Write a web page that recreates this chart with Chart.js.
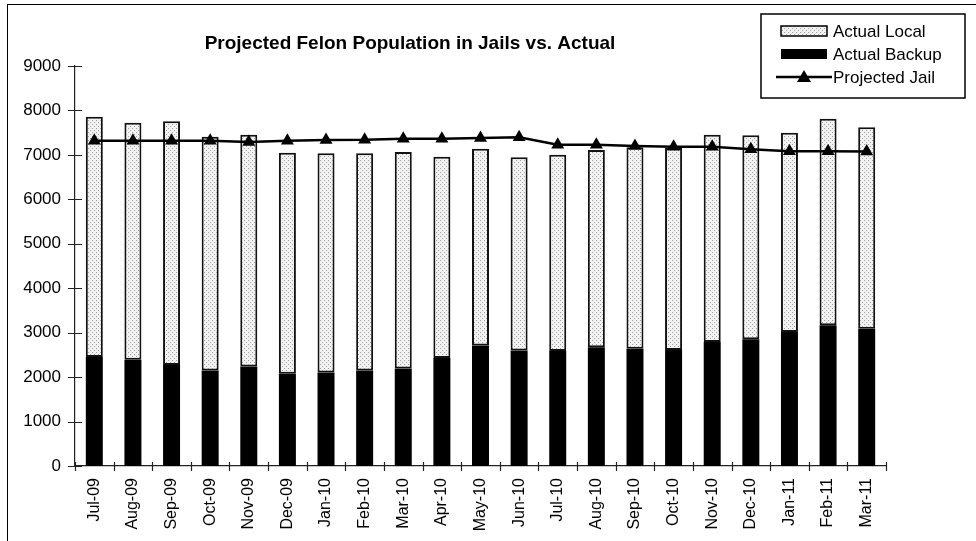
<!DOCTYPE html>
<html>
<head>
<meta charset="utf-8">
<script src="https://cdn.jsdelivr.net/npm/chart.js@4.4.0/dist/chart.umd.min.js"></script>
<style>
  body { margin: 0; background: #fff; }
  #wrap { position: relative; width: 976px; height: 541px; }
  #frame { position: absolute; left: 7px; top: 4px; width: 980px; height: 560px; border: 1.5px solid #000; box-sizing: border-box; pointer-events: none; }
</style>
</head>
<body>
<div id="wrap">
  <canvas id="chart" width="976" height="541"></canvas>
  <div id="frame"></div>
</div>
<script>
const months = ['Jul-09', 'Aug-09', 'Sep-09', 'Oct-09', 'Nov-09', 'Dec-09', 'Jan-10', 'Feb-10', 'Mar-10', 'Apr-10', 'May-10', 'Jun-10',
    'Jul-10', 'Aug-10', 'Sep-10', 'Oct-10', 'Nov-10', 'Dec-10', 'Jan-11', 'Feb-11', 'Mar-11'];
const actualBackup = [2450, 2390, 2270, 2150, 2240, 2075, 2105, 2150, 2195, 2430, 2710, 2600,
    2585, 2670, 2640, 2610, 2790, 2850, 3015, 3165, 3090];
const actualLocal = [5410, 5335, 5485, 5260, 5215, 4975, 4930, 4885, 4870, 4530, 4430, 4345,
    4420, 4440, 4530, 4545, 4665, 4590, 4485, 4650, 4530];
const projectedJail = [7320, 7320, 7320, 7320, 7290, 7320, 7335, 7340, 7365, 7365, 7380, 7395,
    7230, 7230, 7200, 7185, 7185, 7125, 7080, 7080, 7075];
const yTicks = [0, 1000, 2000, 3000, 4000, 5000, 6000, 7000, 8000, 9000];

const FONT = '"Liberation Sans", Arial, sans-serif';

// stippled fill like the old Excel pattern
function makeDots() {
    const c = document.createElement('canvas');
    c.width = 4; c.height = 4;
    const g = c.getContext('2d');
    g.fillStyle = '#f2f2f2';
    g.fillRect(0, 0, 4, 4);
    g.fillStyle = '#a0a0a0';
    g.fillRect(0, 0, 1, 1);
    g.fillRect(2, 2, 1, 1);
    return g.createPattern(c, 'repeat');
}
const dots = makeDots();

// cross-style tick marks on both axes
const crossTicks = {
    id: 'crossTicks',
    afterDraw(chart) {
        const ctx = chart.ctx;
        const x = chart.scales.x, y = chart.scales.y;
        ctx.save();
        ctx.strokeStyle = '#222';
        ctx.lineWidth = 1.2;
        ctx.beginPath();
        yTicks.forEach(v => {
            const py = Math.round(y.getPixelForValue(v)) + 0.5;
            ctx.moveTo(x.left - 7, py);
            ctx.lineTo(x.left + 7, py);
        });
        const step = (x.right - x.left) / months.length;
        for (let i = 0; i <= months.length; i++) {
            const px = Math.round(x.left + i * step) + 0.5;
            ctx.moveTo(px, y.bottom - 4);
            ctx.lineTo(px, y.bottom + 5);
        }
        ctx.stroke();
        ctx.restore();
    }
};

// title and boxed legend drawn by hand
const titleLegend = {
    id: 'titleLegend',
    afterDraw(chart) {
        const ctx = chart.ctx;
        ctx.save();
        ctx.fillStyle = '#000';
        ctx.font = 'bold 19px ' + FONT;
        ctx.textAlign = 'center';
        ctx.textBaseline = 'middle';
        ctx.fillText('Projected Felon Population in Jails vs. Actual', 410, 44);

        const bx = 761, by = 14, bw = 204, bh = 84;
        ctx.fillStyle = '#fff';
        ctx.fillRect(bx, by, bw, bh);
        ctx.strokeStyle = '#000';
        ctx.lineWidth = 1.5;
        ctx.strokeRect(bx, by, bw, bh);

        ctx.font = '17px ' + FONT;
        ctx.textAlign = 'left';
        const rows = [31, 54, 77];
        // Actual Local
        ctx.fillStyle = dots;
        ctx.fillRect(781, rows[0] - 5, 46, 10);
        ctx.lineWidth = 1.5;
        ctx.strokeRect(781, rows[0] - 5, 46, 10);
        // Actual Backup
        ctx.fillStyle = '#000';
        ctx.fillRect(781, rows[1] - 5, 46, 10);
        // Projected Jail
        ctx.beginPath();
        ctx.lineWidth = 2.5;
        ctx.moveTo(776, rows[2]);
        ctx.lineTo(832, rows[2]);
        ctx.stroke();
        ctx.beginPath();
        ctx.moveTo(804, rows[2] - 7);
        ctx.lineTo(811, rows[2] + 5);
        ctx.lineTo(797, rows[2] + 5);
        ctx.closePath();
        ctx.fill();

        ctx.fillStyle = '#000';
        ctx.fillText('Actual Local', 833, rows[0] + 1);
        ctx.fillText('Actual Backup', 833, rows[1] + 1);
        ctx.fillText('Projected Jail', 833, rows[2] + 1);
        ctx.restore();
    }
};

new Chart(document.getElementById('chart'), {
    type: 'bar',
    data: {
        labels: months,
        datasets: [
            {
                type: 'line',
                label: 'Projected Jail',
                data: projectedJail,
                borderColor: '#000',
                backgroundColor: '#000',
                borderWidth: 2.5,
                pointStyle: 'triangle',
                pointRadius: 7.5,
                pointBorderWidth: 0,
                tension: 0,
                stack: 'proj',
                order: 0
            },
            {
                label: 'Actual Backup',
                data: actualBackup,
                backgroundColor: '#000',
                borderColor: '#000',
                borderWidth: 0,
                stack: 'actual',
                order: 1
            },
            {
                label: 'Actual Local',
                data: actualLocal,
                backgroundColor: dots,
                borderColor: '#111',
                borderWidth: 2,
                borderSkipped: false,
                stack: 'actual',
                order: 1
            }
        ]
    },
    options: {
        responsive: false,
        animation: false,
        layout: { padding: { left: 8, top: 66, right: 90, bottom: 0 } },
        datasets: { bar: { barPercentage: 0.44, categoryPercentage: 1.0 } },
        plugins: { legend: { display: false }, title: { display: false }, tooltip: { enabled: false } },
        scales: {
            x: {
                stacked: true,
                grid: { display: false },
                border: { display: true, color: '#222', width: 1.2 },
                ticks: {
                    color: '#000',
                    font: { family: FONT, size: 16 },
                    maxRotation: 90,
                    minRotation: 90,
                    autoSkip: false,
                    padding: 4
                },
                afterFit(scale) { scale.height = 75; }
            },
            y: {
                stacked: true,
                min: 0,
                max: 9000,
                afterBuildTicks(scale) { scale.ticks = yTicks.map(v => ({ value: v })); },
                grid: { display: false },
                border: { display: true, color: '#222', width: 1.2 },
                ticks: {
                    color: '#000',
                    font: { family: FONT, size: 17 },
                    padding: 6,
                    callback: v => String(v)
                },
                afterFit(scale) { scale.width = 67; }
            }
        }
    },
    plugins: [crossTicks, titleLegend]
});
</script>
</body>
</html>
